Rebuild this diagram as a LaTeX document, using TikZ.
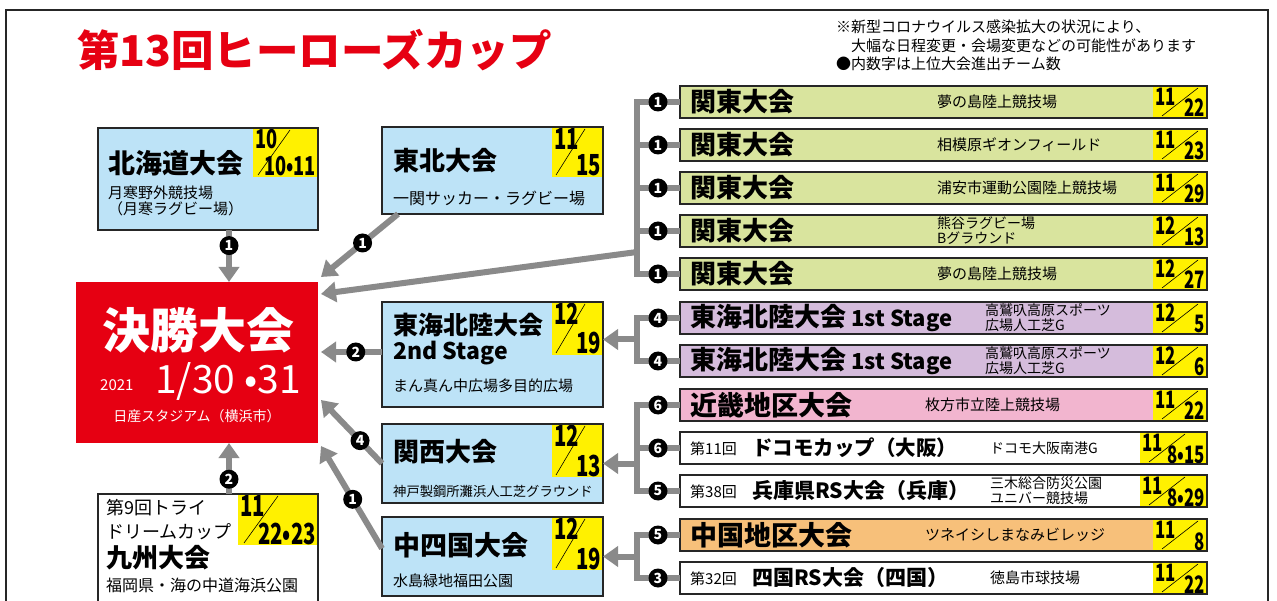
\documentclass[tikz,border=0pt]{standalone}
\usepackage{fontspec}
\setmainfont{Noto Sans CJK JP}
\usepackage{graphicx}
\usetikzlibrary{arrows.meta,calc}
\definecolor{hred}{HTML}{E60012}
\definecolor{skyb}{HTML}{BDE3F7}
\definecolor{kantog}{HTML}{D9E49E}
\definecolor{purp}{HTML}{D5BCDC}
\definecolor{pinkk}{HTML}{F2B5CF}
\definecolor{orng}{HTML}{F7C07A}
\definecolor{ylw}{HTML}{FFF100}
\definecolor{conng}{HTML}{8A8A8A}
\def\dfs{24.5}
% #1 name, #2 x1, #3 y1, #4 x2, #5 y2, #6 top, #7 bottom, #8 slash start, #9 slash end (x offsets)
\newcommand\datebox[9]{%
  \node[datebg, minimum width={#4-#2}, minimum height={#5-#3}] (#1) at (#2,#3) {};
  \draw[slash] ({#2+#8},{#5-2}) -- ({#2+#9},{#3+2});
  \node[dtxt, anchor=base west] (#1t) at ({#2+2},{#3+0.73*\dfs+1.5}) {\scalebox{0.7}[1]{#6}};
  \node[dtxt, anchor=base east] (#1b) at ({#4-2},{#5-1}) {\scalebox{0.7}[1]{#7}};
}
\newcommand\boxborder[1]{\draw[bline] (#1.north west) rectangle (#1.south east);}
\begin{document}
\begin{tikzpicture}[x=1pt,y=-1pt,
  boxbg/.style={anchor=north west, inner sep=0, outer sep=0},
  bline/.style={draw=black!85, line width=1.3pt},
  datebg/.style={fill=ylw, anchor=north west, inner sep=0, outer sep=0},
  slash/.style={draw=black, line width=0.6pt},
  dtxt/.style={inner sep=0, font=\fontsize{\dfs}{\dfs}\selectfont\bfseries},
  txt/.style={anchor=west, inner sep=0, text=black},
  conn/.style={draw=conng, line width=6pt},
  arr/.style={conn, -{Triangle[width=20pt,length=15pt]}},
  badge/.style={circle, fill=black, text=white, inner sep=0, minimum size=19pt,
    font=\fontsize{14}{14}\selectfont\bfseries},
  ttl/.style={txt, font=\fontsize{26}{26}\selectfont\bfseries},
  ven/.style={txt, font=\fontsize{15}{16}\selectfont, align=left},
  small/.style={txt, font=\fontsize{14}{15}\selectfont, align=left},
]
\useasboundingbox (0,0) rectangle (1277,601);
\clip (0,0) rectangle (1277,601);
\fill[white] (0,0) rectangle (1277,601);
\draw[draw=black!85, line width=1.5pt] (6,10) rectangle (1268,660);

% title and notes
\node[txt, text=hred, font=\fontsize{42.5}{42.5}\selectfont\bfseries] (title) at (77,50) {第13回ヒーローズカップ};
\node[small, anchor=north west, font=\fontsize{15}{18.5}\selectfont] (note) at (836,20)
  {※新型コロナウイルス感染拡大の状況により、\\\hspace*{15pt}大幅な日程変更・会場変更などの可能性があります\\●内数字は上位大会進出チーム数};

% final
\node[boxbg, fill=hred, minimum width=242, minimum height=161] (fin) at (76,282) {};
\node[inner sep=0, text=white, font=\fontsize{48}{48}\selectfont\bfseries] (finT) at (198,330) {決勝大会};
\node[inner sep=0, text=white, font=\fontsize{39}{39}\selectfont, anchor=base west] (finD) at (155,394) {1/30 •31};
\node[inner sep=0, text=white, font=\fontsize{15}{15}\selectfont, anchor=base west] (finY) at (100,391) {2021};
\node[inner sep=0, text=white, font=\fontsize{14}{14}\selectfont] (finV) at (197,416) {日産スタジアム（横浜市）};

% Hokkaido
\node[boxbg, fill=skyb, minimum width=220, minimum height=102] (hok) at (98,128) {};
\def\dfs{26}
\datebox{dhok}{253}{128}{318}{177}{10}{10•11}{5}{37}
\boxborder{hok}
\node[ttl, font=\fontsize{27}{27}\selectfont\bfseries] (hokT) at (108,163) {北海道大会};
\node[ven] (hokV) at (108,201) {月寒野外競技場\\（月寒ラグビー場）};

% Tohoku
\def\dfs{29}
\node[boxbg, fill=skyb, minimum width=221, minimum height=87] (toh) at (382,127) {};
\datebox{dtoh}{552}{127}{603}{177}{11}{15}{4}{33}
\boxborder{toh}
\node[ttl] (tohT) at (393,161) {東北大会};
\node[ven, font=\fontsize{16}{16}\selectfont] (tohV) at (393,198) {一関サッカー・ラグビー場};

% Tokai Hokuriku 2nd
\node[boxbg, fill=skyb, minimum width=221, minimum height=105] (tk2) at (382,302) {};
\datebox{dtk2}{552}{302}{603}{355}{12}{19}{4}{33}
\boxborder{tk2}
\node[ttl, font=\fontsize{25}{25}\selectfont\bfseries] (tk2T) at (393,325) {東海北陸大会};
\node[ttl, font=\fontsize{23}{23}\selectfont\bfseries] (tk2S) at (393,353) {2nd Stage};
\node[ven] (tk2V) at (393,386) {まん真ん中広場多目的広場};

% Kansai
\node[boxbg, fill=skyb, minimum width=221, minimum height=79] (kan) at (382,424) {};
\datebox{dkan}{552}{424}{603}{477}{12}{13}{4}{33}
\boxborder{kan}
\node[ttl] (kanT) at (393,452) {関西大会};
\node[ven, font=\fontsize{13.3}{14}\selectfont] (kanV) at (393,491) {神戸製鋼所灘浜人工芝グラウンド};

% Chushikoku
\node[boxbg, fill=skyb, minimum width=221, minimum height=79] (chu) at (382,517) {};
\datebox{dchu}{552}{517}{603}{570}{12}{19}{4}{33}
\boxborder{chu}
\node[ttl, font=\fontsize{27}{27}\selectfont\bfseries] (chuT) at (393,545) {中四国大会};
\node[ven] (chuV) at (393,581) {水島緑地福田公園};

% Kyushu
\node[boxbg, fill=white, minimum width=220, minimum height=112] (kyu) at (98,494) {};
\datebox{dkyu}{238}{494}{318}{545}{11}{22•23}{6}{40}
\boxborder{kyu}
\node[txt, font=\fontsize{18}{18}\selectfont] (kyu1) at (106,508) {第9回トライ};
\node[txt, font=\fontsize{18}{18}\selectfont] (kyu2) at (106,532) {ドリームカップ};
\node[ttl] (kyuT) at (106,558) {九州大会};
\node[ven, font=\fontsize{16}{16}\selectfont] (kyuV) at (106,585) {福岡県・海の中道海浜公園};

% right column
\node[boxbg, fill=kantog, minimum width=527, minimum height=32] (r1) at (680,86) {};
\node[boxbg, fill=kantog, minimum width=527, minimum height=32] (r2) at (680,129) {};
\node[boxbg, fill=kantog, minimum width=527, minimum height=32] (r3) at (680,172) {};
\node[boxbg, fill=kantog, minimum width=527, minimum height=32] (r4) at (680,215) {};
\node[boxbg, fill=kantog, minimum width=527, minimum height=32] (r5) at (680,258) {};
\node[boxbg, fill=purp, minimum width=527, minimum height=32] (r6) at (680,302) {};
\node[boxbg, fill=purp, minimum width=527, minimum height=32] (r7) at (680,345) {};
\node[boxbg, fill=pinkk, minimum width=527, minimum height=32] (r8) at (680,389) {};
\node[boxbg, fill=white, minimum width=527, minimum height=32] (r9) at (680,432) {};
\node[boxbg, fill=white, minimum width=527, minimum height=32] (r10) at (680,475) {};
\node[boxbg, fill=orng, minimum width=527, minimum height=32] (r11) at (680,519) {};
\node[boxbg, fill=white, minimum width=527, minimum height=32] (r12) at (680,562) {};
\def\dfs{24}
\datebox{d1}{1153}{86}{1207}{118}{11}{22}{9}{45}
\datebox{d2}{1153}{129}{1207}{161}{11}{23}{9}{45}
\datebox{d3}{1153}{172}{1207}{204}{11}{29}{9}{45}
\datebox{d4}{1153}{215}{1207}{247}{12}{13}{9}{45}
\datebox{d5}{1153}{258}{1207}{290}{12}{27}{9}{45}
\datebox{d6}{1153}{302}{1207}{334}{12}{5}{9}{45}
\datebox{d7}{1153}{345}{1207}{377}{12}{6}{9}{45}
\datebox{d8}{1153}{389}{1207}{421}{11}{22}{9}{45}
\datebox{d9}{1140}{432}{1207}{464}{11}{8•15}{9}{45}
\datebox{d10}{1140}{475}{1207}{507}{11}{8•29}{9}{45}
\datebox{d11}{1153}{519}{1207}{551}{11}{8}{9}{45}
\datebox{d12}{1153}{562}{1207}{594}{11}{22}{9}{45}
\foreach \r in {r1,r2,r3,r4,r5,r6,r7,r8,r9,r10,r11,r12} {\boxborder{\r}}

\node[ttl] (t1) at (690,102) {関東大会};
\node[ttl] (t2) at (690,145) {関東大会};
\node[ttl] (t3) at (690,188) {関東大会};
\node[ttl] (t4) at (690,231) {関東大会};
\node[ttl] (t5) at (690,274) {関東大会};
\node[ven] (v1) at (937,102) {夢の島陸上競技場};
\node[ven] (v2) at (937,145) {相模原ギオンフィールド};
\node[ven] (v3) at (937,188) {浦安市運動公園陸上競技場};
\node[small, font=\fontsize{14}{15}\selectfont] (v4) at (937,231) {熊谷ラグビー場\\Bグラウンド};
\node[ven] (v5) at (937,274) {夢の島陸上競技場};
\node[ttl] (t6) at (690,318) {東海北陸大会\fontsize{22}{22}\selectfont\ 1st Stage};
\node[ttl] (t7) at (690,361) {東海北陸大会\fontsize{22}{22}\selectfont\ 1st Stage};
\node[small] (v6) at (985,318) {高鷲叺高原スポーツ\\広場人工芝G};
\node[small] (v7) at (985,361) {高鷲叺高原スポーツ\\広場人工芝G};
\node[ttl, font=\fontsize{27}{27}\selectfont\bfseries] (t8) at (690,405) {近畿地区大会};
\node[ven] (v8) at (925,405) {枚方市立陸上競技場};
\node[txt, font=\fontsize{15}{15}\selectfont] (n9) at (690,449) {第11回};
\node[txt, font=\fontsize{20.5}{20.5}\selectfont\bfseries] (t9) at (752,448) {ドコモカップ（大阪）};
\node[small] (v9) at (990,448) {ドコモ大阪南港G};
\node[txt, font=\fontsize{15}{15}\selectfont] (n10) at (690,492) {第38回};
\node[txt, font=\fontsize{21}{21}\selectfont\bfseries] (t10) at (752,491) {兵庫県RS大会（兵庫）};
\node[small] (v10) at (990,491) {三木総合防災公園\\ユニバー競技場};
\node[ttl, font=\fontsize{27}{27}\selectfont\bfseries] (t11) at (690,535) {中国地区大会};
\node[ven] (v11) at (925,535) {ツネイシしまなみビレッジ};
\node[txt, font=\fontsize{15}{15}\selectfont] (n12) at (690,579) {第32回};
\node[txt, font=\fontsize{21}{21}\selectfont\bfseries] (t12) at (752,578) {四国RS大会（四国）};
\node[ven] (v12) at (990,578) {徳島市球技場};

% connectors: brackets on the right
\coordinate (kx) at (637,0);
\draw[conn] (r1.west) -- (r1.west -| kx) -- (r5.west -| kx) -- (r5.west);
\foreach \r in {r2,r3,r4} {\draw[conn] (\r.west) -- (\r.west -| kx);}
\draw[conn] (r6.west) -- (r6.west -| kx) -- (r7.west -| kx) -- (r7.west);
\draw[conn] (r8.west) -- (r8.west -| kx) -- (r10.west -| kx) -- (r10.west);
\draw[conn] (r9.west) -- (r9.west -| kx);
\draw[conn] (r11.west) -- (r11.west -| kx) -- (r12.west -| kx) -- (r12.west);
\coordinate (kJ) at (637,252);
\coordinate (tJ) at ($(r6.west -| kx)!0.5!(r7.west -| kx)$);
\coordinate (nJ) at (kx |- kan.east);
\coordinate (cJ) at ($(r11.west -| kx)!0.5!(r12.west -| kx)$);
\draw[arr] (kJ) -- ($(fin.north east)+(3,12)$);
\draw[arr] (tJ) -- (tJ -| tk2.east);
\draw[arr] (nJ) -- (kan.east);
\draw[arr] (cJ) -- (cJ -| chu.east);
\foreach \r/\n in {r1/1,r2/1,r3/1,r4/1,r5/1,r6/4,r7/4,r8/6,r9/6,r10/5,r11/5,r12/3}
  {\node[badge] (b\r) at ($(\r.west)+(-22,0)$) {\n};}

% connectors into the final
\coordinate (hokS) at ($(hok.south west)+(131,0)$);
\draw[arr] (hokS) -- node[badge, pos=0.3] (bh) {1} (hokS |- fin.north);
\coordinate (tohS) at ($(toh.south west)+(16,0)$);
\draw[arr] (tohS) -- node[badge, pos=0.46] (bt) {1} ($(fin.north east)+(3,-5)$);
\draw[arr] (tk2.west |- 0,352) -- node[badge, pos=0.43] (b2) {2} ($(fin.east |- 0,352)+(3,0)$);
\draw[arr] (kan.west) -- node[badge, pos=0.36] (bk) {4} ($(fin.south east)+(3,-43)$);
\draw[arr] ($(chu.west)+(0,-8)$) -- node[badge, pos=0.48] (bc) {1} ($(fin.south east)+(3,3)$);
\coordinate (kyuN) at ($(kyu.north west)+(131,0)$);
\draw[arr] (kyuN) -- node[badge, pos=0.29] (by) {2} (kyuN |- fin.south);
\end{tikzpicture}
\end{document}
